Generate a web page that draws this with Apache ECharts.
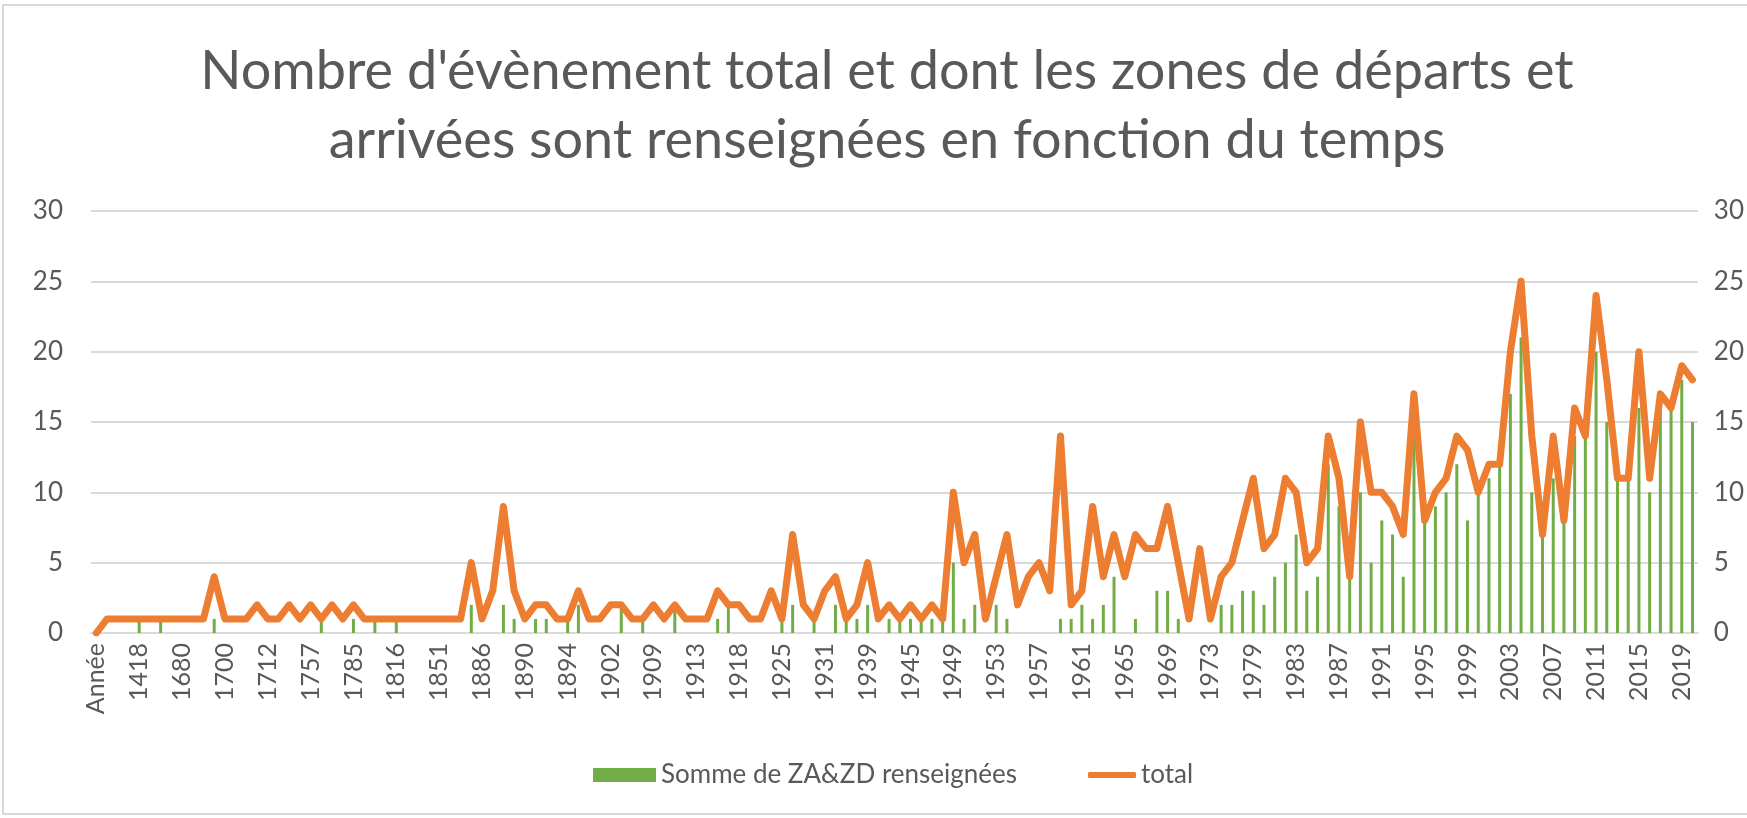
<!DOCTYPE html>
<html>
<head>
<meta charset="utf-8">
<script src="https://cdn.jsdelivr.net/npm/echarts@6/dist/echarts.min.js"></script>
<style>
    html, body { margin: 0; padding: 0; background: #ffffff; }
    #char1 { width: 1747px; height: 818px; }
</style>
</head>
<body>
<div id="char1"></div>
<script>
// catégories (années), une étiquette sur 4 est affichée
var annees = ['Année', '1356', '1382', '1400', '1418', '1500', '1600', '1650', '1680', '1685', '1690', '1698',
    '1700', '1702', '1706', '1709', '1712', '1720', '1735', '1750', '1757', '1766', '1770', '1778',
    '1785', '1794', '1800', '1808', '1816', '1825', '1836', '1845', '1851', '1862', '1870', '1880',
    '1886', '1887', '1888', '1889', '1890', '1891', '1892', '1893', '1894', '1895', '1897', '1899',
    '1902', '1903', '1905', '1907', '1909', '1910', '1911', '1912', '1913', '1914', '1916', '1917',
    '1918', '1920', '1922', '1924', '1925', '1926', '1927', '1929', '1931', '1932', '1935', '1937',
    '1939', '1940', '1942', '1944', '1945', '1946', '1947', '1948', '1949', '1950', '1951', '1952',
    '1953', '1954', '1955', '1956', '1957', '1958', '1959', '1960', '1961', '1962', '1963', '1964',
    '1965', '1966', '1967', '1968', '1969', '1970', '1971', '1972', '1973', '1974', '1976', '1978',
    '1979', '1980', '1981', '1982', '1983', '1984', '1985', '1986', '1987', '1988', '1989', '1990',
    '1991', '1992', '1993', '1994', '1995', '1996', '1997', '1998', '1999', '2000', '2001', '2002',
    '2003', '2004', '2005', '2006', '2007', '2008', '2009', '2010', '2011', '2012', '2013', '2014',
    '2015', '2016', '2017', '2018', '2019', '2020'];

// Somme de ZA&ZD renseignées
var sommeZaZd = [0, 0, 0, 0, 1, 0, 1, 0, 0, 0, 0, 1,
    0, 0, 0, 0, 0, 0, 0, 0, 0, 1, 0, 0,
    1, 0, 1, 0, 1, 0, 0, 0, 0, 0, 0, 2,
    0, 0, 2, 1, 0, 1, 1, 0, 1, 2, 0, 0,
    0, 2, 0, 1, 0, 0, 2, 0, 0, 0, 1, 2,
    0, 0, 0, 0, 1, 2, 0, 1, 0, 2, 1, 1,
    2, 0, 1, 1, 1, 1, 1, 1, 5, 1, 2, 0,
    2, 1, 0, 0, 0, 0, 1, 1, 2, 1, 2, 4,
    0, 1, 0, 3, 3, 1, 0, 0, 0, 2, 2, 3,
    3, 2, 4, 5, 7, 3, 4, 12, 9, 4, 10, 5,
    8, 7, 4, 14, 8, 9, 10, 12, 8, 10, 11, 12,
    17, 21, 10, 7, 11, 8, 14, 14, 20, 15, 11, 11,
    16, 10, 16, 16, 18, 15];

// total
var total = [0, 1, 1, 1, 1, 1, 1, 1, 1, 1, 1, 4,
    1, 1, 1, 2, 1, 1, 2, 1, 2, 1, 2, 1,
    2, 1, 1, 1, 1, 1, 1, 1, 1, 1, 1, 5,
    1, 3, 9, 3, 1, 2, 2, 1, 1, 3, 1, 1,
    2, 2, 1, 1, 2, 1, 2, 1, 1, 1, 3, 2,
    2, 1, 1, 3, 1, 7, 2, 1, 3, 4, 1, 2,
    5, 1, 2, 1, 2, 1, 2, 1, 10, 5, 7, 1,
    4, 7, 2, 4, 5, 3, 14, 2, 3, 9, 4, 7,
    4, 7, 6, 6, 9, 5, 1, 6, 1, 4, 5, 8,
    11, 6, 7, 11, 10, 5, 6, 14, 11, 4, 15, 10,
    10, 9, 7, 17, 8, 10, 11, 14, 13, 10, 12, 12,
    20, 25, 14, 7, 14, 8, 16, 14, 24, 18, 11, 11,
    20, 11, 17, 16, 19, 18];

var titre = "Nombre d'évènement total et dont les zones de départs et\narrivées sont renseignées en fonction du temps";

function char1() {
    var myChart = echarts.init(document.getElementById('char1'));
    var gris = '#595959';
    option = {
        backgroundColor: '#ffffff',
        animation: false,
        textStyle: { fontFamily: 'Lato' },
        graphic: [
            {
                type: 'rect',
                shape: { x: 3, y: 5, width: 1800, height: 809 },
                style: { fill: 'none', stroke: '#d9d9d9', lineWidth: 2 }
            },
            {
                type: 'text',
                style: {
                    text: titre,
                    x: 887,
                    y: 106,
                    textAlign: 'center',
                    textVerticalAlign: 'middle',
                    fontFamily: 'Lato',
                    fontSize: 54,
                    lineHeight: 69,
                    fill: gris
                }
            }
        ],
        legend: [
            {
                data: ['Somme de ZA&ZD renseignées'],
                left: 588,
                top: 757,
                itemWidth: 63,
                itemHeight: 14,
                icon: 'rect',
                textStyle: { color: gris, fontSize: 26, fontFamily: 'Lato' }
            },
            {
                data: ['total'],
                left: 1083,
                top: 757,
                itemWidth: 48,
                itemHeight: 6,
                icon: 'roundRect',
                textStyle: { color: gris, fontSize: 26, fontFamily: 'Lato' }
            }
        ],
        grid: {
            left: 91,
            right: 48,
            top: 211,
            bottom: 185
        },
        xAxis: {
            type: 'category',
            data: annees,
            axisTick: { show: false },
            axisLine: { lineStyle: { color: '#d9d9d9', width: 2 } },
            axisLabel: {
                interval: 3,
                rotate: 90,
                margin: 10,
                color: gris,
                fontSize: 25,
                fontFamily: 'Lato'
            }
        },
        yAxis: [
            {
                type: 'value',
                min: 0,
                max: 30,
                interval: 5,
                axisLine: { show: false },
                axisTick: { show: false },
                axisLabel: { color: gris, fontSize: 26, margin: 28, fontFamily: 'Lato' },
                splitLine: { lineStyle: { color: '#d9d9d9', width: 2 } }
            },
            {
                type: 'value',
                min: 0,
                max: 30,
                interval: 5,
                position: 'right',
                axisLine: { show: false },
                axisTick: { show: false },
                axisLabel: { color: gris, fontSize: 26, margin: 16, align: 'left', fontFamily: 'Lato' },
                splitLine: { show: false }
            }
        ],
        series: [
            {
                name: 'Somme de ZA&ZD renseignées',
                type: 'bar',
                yAxisIndex: 0,
                barWidth: 3,
                itemStyle: { color: '#70ad47' },
                data: sommeZaZd
            },
            {
                name: 'total',
                type: 'line',
                yAxisIndex: 1,
                symbol: 'none',
                itemStyle: { color: '#ed7d31' },
                lineStyle: { color: '#ed7d31', width: 7, cap: 'round', join: 'round' },
                data: total
            }
        ]
    };
    myChart.setOption(option);
    window.addEventListener('resize', function () { myChart.resize(); })
}

char1();
</script>
</body>
</html>
